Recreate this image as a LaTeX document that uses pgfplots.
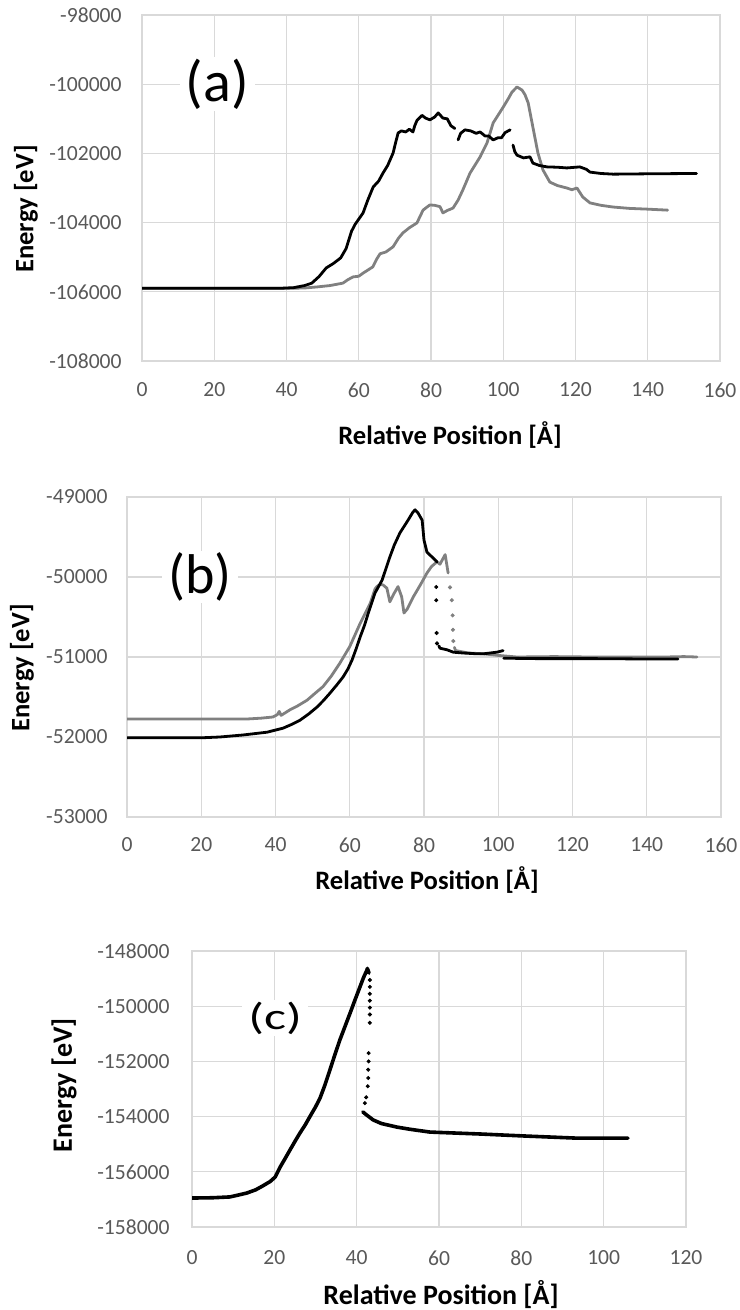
\documentclass[border=0pt]{standalone}
\usepackage{fontspec}
\setmainfont{Carlito}
\usepackage{pgfplots}
\pgfplotsset{compat=1.18}

\definecolor{gridgray}{HTML}{D9D9D9}
\definecolor{ticktext}{HTML}{595959}
\definecolor{sgray}{HTML}{808080}

\pgfplotsset{
  excel/.style={
    scale only axis,
    anchor=north west,
    axis line style={draw=gridgray, line width=0.6pt},
    grid=major,
    major grid style={draw=gridgray, line width=0.6pt},
    major tick length=0pt,
    tick label style={font=\fontsize{10.8}{12}\selectfont, text=ticktext, inner sep=0pt},
    /pgf/number format/assume math mode=true,
    /pgf/number format/fixed,
    /pgf/number format/precision=0,
    /pgf/number format/1000 sep={},
    scaled ticks=false,
  },
  blk/.style={black, line width=1.4pt, line join=round, line cap=round},
  gry/.style={sgray, line width=1.4pt, line join=round, line cap=round},
  dots/.style={only marks, mark=*, mark size=0.8pt},
}
\tikzset{panel/.style={fill=white, inner xsep=3pt, inner ysep=1pt}}

\begin{document}
\begin{tikzpicture}
\path[use as bounding box] (0,0) rectangle (369.5pt,-655pt);

% ---------------- (a) ----------------
\begin{axis}[excel,
  at={(71pt,-7.5pt)}, width=289pt, height=173pt,
  xmin=0, xmax=160, ymin=-108000, ymax=-98000,
  xtick={0,20,...,160}, ytick={-108000,-106000,...,-98000},
  xticklabel style={anchor=center, yshift=-14.5pt},
  yticklabel style={anchor=east, xshift=-10pt},
]
\addplot[gry] coordinates {
  (0,-105900) (40,-105900) (45,-105890) (48.4,-105860) (52,-105820) (55.6,-105750)
  (57,-105650) (58.4,-105570) (60,-105550) (61.2,-105460) (63.9,-105280) (65,-105050)
  (65.9,-104900) (67.5,-104850) (69.5,-104700) (71,-104450) (72.2,-104300) (74,-104150)
  (76.1,-104010) (77.8,-103640) (78.9,-103550) (79.7,-103490) (81,-103500) (82.5,-103540)
  (83.3,-103720) (84.5,-103650) (86.1,-103580) (87.5,-103350) (88.8,-103060) (90.8,-102570)
  (93.6,-102100) (95.5,-101700) (97.2,-101120) (100,-100660) (101.5,-100400) (102.4,-100230)
  (103.8,-100080) (105.2,-100170) (106,-100300) (106.9,-100540) (108.2,-101240) (109.6,-101990)
  (111,-102480) (112.9,-102830) (115,-102930) (117.6,-103000) (119,-103050) (120.4,-103000)
  (122,-103260) (124,-103430) (127,-103500) (130.4,-103550) (135,-103590) (139.7,-103610)
  (145.5,-103640)
};
\addplot[blk] coordinates {
  (0,-105900) (20,-105900) (38,-105900) (42,-105880) (45,-105820) (47,-105750) (49,-105560)
  (51,-105310) (53,-105180) (55,-105020) (56.5,-104750) (58,-104250) (59,-104050) (60,-103900)
  (61.2,-103720) (62.5,-103350) (64,-102970) (65.5,-102800) (66.7,-102570) (68,-102350)
  (69.5,-101990) (70.3,-101650) (70.9,-101410) (71.8,-101350) (73,-101380) (74,-101300)
  (75,-101380) (75.5,-101200) (76.1,-101050) (77.5,-100900) (78.5,-100980) (79.7,-101030)
  (81,-100950) (82,-100830) (83.3,-100980) (84.5,-101000) (85.5,-101200) (86.6,-101280)
};
\addplot[blk] coordinates {
  (87.5,-101610) (88.2,-101420) (89.4,-101320) (91,-101350) (92.5,-101420) (93.6,-101380)
  (95,-101500) (96,-101500) (97.2,-101610) (98.5,-101550) (99.5,-101550) (100.5,-101400)
  (101.9,-101320)
};
\addplot[blk] coordinates {
  (102.7,-101760) (103.2,-101950) (103.8,-102050) (105.6,-102130) (107.4,-102100)
  (108.2,-102280) (110,-102350) (112.1,-102390) (115,-102400) (117.6,-102420)
  (121.2,-102390) (123,-102460) (124,-102540) (127,-102580) (130.4,-102600)
  (140,-102590) (153.5,-102580)
};
\node[panel, font=\fontsize{29}{30}\selectfont] at (axis cs:20.8,-100000) {(a)};
\end{axis}
\node[font=\bfseries\fontsize{13.3}{15}\selectfont] at (225pt,-217.5pt) {Relative Position [Å]};
\node[rotate=90, font=\bfseries\fontsize{13.3}{15}\selectfont] at (13pt,-104.5pt) {Energy [eV]};

% ---------------- (b) ----------------
\begin{axis}[excel,
  at={(63.5pt,-248.5pt)}, width=297pt, height=160pt,
  xmin=0, xmax=160, ymin=-53000, ymax=-49000,
  xtick={0,20,...,160}, ytick={-53000,-52000,...,-49000},
  xticklabel style={anchor=center, yshift=-14pt},
  yticklabel style={anchor=east, xshift=-9.5pt},
]
\addplot[gry] coordinates {
  (0,-51775) (30,-51775) (32.3,-51775) (36,-51765) (39.3,-51750) (40.5,-51720) (41,-51680)
  (41.5,-51730) (43.9,-51660) (46,-51610) (48.5,-51540) (50.5,-51460) (52.8,-51370)
  (55,-51240) (57.3,-51080) (60,-50870) (62.8,-50580) (65.5,-50330) (66.8,-50150)
  (67.3,-50120) (68.2,-50090) (69,-50100) (70,-50140) (70.8,-50310) (72,-50200) (73,-50120)
  (74,-50250) (74.6,-50450) (75.5,-50400) (77.1,-50250) (79,-50100) (80.8,-49950)
  (82,-49870) (83.5,-49810) (84.3,-49840) (85.7,-49720) (86.5,-49950)
};
\addplot[sgray, dots] coordinates {
  (87,-50130) (87.5,-50290) (87.7,-50480) (87.8,-50660) (87.9,-50800)
};
\addplot[gry] coordinates {
  (88.2,-50880) (88.5,-50920) (92,-50950) (96,-50960) (100,-50980) (105,-51000)
  (115,-50995) (125,-51000) (135,-51000) (145,-51000) (150,-50995) (153.5,-51000)
};
\addplot[blk] coordinates {
  (0,-52010) (20,-52010) (25,-52000) (31.2,-51975) (37.7,-51940) (42,-51890) (44.5,-51840)
  (46.6,-51790) (49,-51710) (51.2,-51625) (53,-51540) (54.7,-51450) (56.5,-51350)
  (58.2,-51250) (59.5,-51150) (60.6,-51040) (61.7,-50900) (62.8,-50750) (64,-50600)
  (65,-50450) (66.8,-50200) (68.7,-50040) (70.8,-49750) (72,-49600) (73.5,-49450)
  (75.7,-49290) (77,-49190) (77.6,-49160) (78.4,-49200) (79.5,-49290) (80,-49540)
  (80.8,-49690) (82.4,-49760) (83.5,-49810)
};
\addplot[black, dots] coordinates {
  (83.3,-50125) (83.3,-50290) (83.4,-50700) (83.5,-50830)
};
\addplot[blk] coordinates {
  (84,-50860) (84.3,-50890) (86.2,-50910) (87.9,-50940) (90.5,-50950) (94.3,-50960)
  (96,-50960) (99.6,-50940) (101.3,-50920)
};
\addplot[blk] coordinates {
  (101.5,-51015) (110,-51020) (125,-51020) (140,-51025) (148.4,-51025)
};
\node[panel, font=\fontsize{28}{30}\selectfont] at (axis cs:19.7,-50000) {(b)};
\end{axis}
\node[font=\bfseries\fontsize{13.3}{15}\selectfont] at (213.5pt,-440pt) {Relative Position [Å]};
\node[rotate=90, font=\bfseries\fontsize{13.3}{15}\selectfont] at (11pt,-334pt) {Energy [eV]};

% ---------------- (c) ----------------
\begin{axis}[excel,
  at={(96pt,-475.5pt)}, width=247pt, height=138pt,
  xmin=0, xmax=120, ymin=-158000, ymax=-148000,
  xtick={0,20,...,120}, ytick={-158000,-156000,...,-148000},
  xticklabel style={anchor=center, yshift=-15.5pt},
  yticklabel style={anchor=east, xshift=-11pt},
]
\addplot[black, line width=1.8pt, line join=round, line cap=round] coordinates {
  (0,-156950) (5,-156940) (9.2,-156910) (11,-156850) (13.3,-156770) (15.5,-156650)
  (17.2,-156510) (19,-156350) (20.2,-156190) (21.4,-155830) (22.5,-155550) (23.8,-155210)
  (25,-154900) (26.2,-154600) (27.5,-154300) (28.6,-154010) (30,-153650) (31.1,-153330)
  (32.3,-152850) (33.5,-152310) (34.7,-151760) (35.9,-151230) (37.2,-150720) (38.4,-150250)
  (39.6,-149770) (40.8,-149300) (41.7,-148950) (42.5,-148690) (42.6,-148630) (43,-148800)
};
\addplot[black, dots] coordinates {
  (43.2,-149050) (43.2,-149300) (43.2,-149550) (43.2,-149800) (43.2,-150050) (43.2,-150300)
  (43.2,-150600) (42.9,-151700) (42.9,-152000) (42.8,-152300) (42.8,-152600) (42.7,-152900)
  (42.3,-153300) (42,-153510)
};
\addplot[black, line width=1.8pt, line join=round, line cap=round] coordinates {
  (41.5,-153830) (42.5,-153950) (44,-154120) (46,-154250) (49.8,-154380) (53,-154460)
  (57.8,-154560) (63,-154590) (70,-154630) (80.4,-154700) (93.5,-154780) (105.9,-154780)
};
\node[panel, font=\fontsize{26}{28}\selectfont, yscale=0.72] at (axis cs:20.2,-150430) {(c)};
\end{axis}
\node[font=\bfseries\fontsize{14}{16}\selectfont] at (220.5pt,-647.5pt) {Relative Position [Å]};
\node[rotate=90, font=\bfseries\fontsize{14}{16}\selectfont] at (32pt,-542.5pt) {Energy [eV]};
\end{tikzpicture}
\end{document}
